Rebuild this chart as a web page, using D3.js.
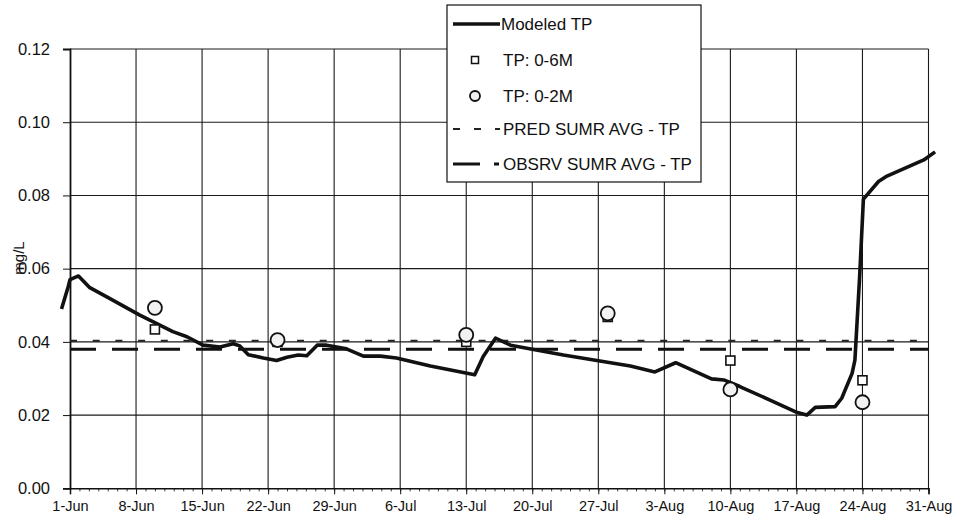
<!DOCTYPE html>
<html>
<head>
<meta charset="utf-8">
<script src="https://cdn.jsdelivr.net/npm/d3@7"></script>
<style>
  html, body { margin: 0; padding: 0; background: #fff; }
  svg { display: block; font-family: "Liberation Sans", Arial, sans-serif; }
</style>
</head>
<body>
<svg id="chart" width="955" height="522"></svg>
<script>
// Modeled total phosphorus, days after 1-Jun vs. mg/L
const modeledDay = [-0.9, -0.2, 0.0, 0.9, 2.1, 3.9, 7.4, 10.9, 12.4, 14.1, 15.9, 17.3, 18.0, 18.9, 20.5,
  21.9, 23.0, 24.2, 25.1, 26.2, 27.2, 29.3, 31.1, 32.9, 34.6, 38.2, 42.9, 43.8, 45.1, 46.7, 52.3, 59.4,
  62.0, 64.2, 68.0, 69.3, 71.0, 74.2, 77.1, 78.1, 79.0, 81.1, 81.8, 82.9, 83.2, 83.7, 84.1, 85.7, 86.6,
  90.5, 91.7];
const modeledTP = [0.049, 0.055, 0.057, 0.058, 0.0548, 0.0523, 0.0473, 0.0428, 0.0414, 0.0391, 0.0386,
  0.0395, 0.0389, 0.0365, 0.0356, 0.0349, 0.0358, 0.0364, 0.0362, 0.0391, 0.0391, 0.0381, 0.0361, 0.0361,
  0.0356, 0.0334, 0.0310, 0.0360, 0.0410, 0.0391, 0.0364, 0.0334, 0.0318, 0.0343, 0.0299, 0.0296, 0.0278,
  0.0241, 0.0207, 0.0200, 0.0221, 0.0223, 0.0246, 0.0314, 0.0350, 0.0578, 0.0790, 0.0838, 0.0853,
  0.0897, 0.0919];

// Sampled TP, 0-6 m composite (squares)
const sample6Day = [9, 22, 42, 57, 70, 84];
const sample6TP = [0.0434, 0.0400, 0.0400, 0.0468, 0.0349, 0.0295];

// Sampled TP, 0-2 m composite (circles)
const sample2Day = [9, 22, 42, 57, 70, 84];
const sample2TP = [0.0493, 0.0405, 0.0419, 0.0478, 0.0270, 0.0235];

// Summer averages
const predSummerAvg = 0.0403;
const obsSummerAvg = 0.0380;

// Axes
const xTickDays = [0, 7, 14, 21, 28, 35, 42, 49, 56, 63, 70, 77, 84, 91];
const xTickLabels = ["1-Jun", "8-Jun", "15-Jun", "22-Jun", "29-Jun", "6-Jul", "13-Jul", "20-Jul",
  "27-Jul", "3-Aug", "10-Aug", "17-Aug", "24-Aug", "31-Aug"];
const yTicks = [0, 0.02, 0.04, 0.06, 0.08, 0.10, 0.12];
const legendLabels = ["Modeled TP", "TP: 0-6M", "TP: 0-2M", "PRED SUMR AVG - TP", "OBSRV SUMR AVG - TP"];

const svg = d3.select("#chart");
const plotLeft = 70, plotRight = 928.5, plotTop = 49, plotBottom = 488.3;

const x = d3.scaleLinear().domain([0, 91]).range([plotLeft, plotRight]);
const y = d3.scaleLinear().domain([0, 0.12]).range([plotBottom, plotTop]);

// Gridlines
const grid = svg.append("g").attr("stroke", "#1a1a1a").attr("stroke-width", 1.1);
grid.selectAll("line.h").data(yTicks.slice(1)).join("line").attr("class", "h")
  .attr("x1", plotLeft).attr("x2", plotRight)
  .attr("y1", d => y(d)).attr("y2", d => y(d));
grid.selectAll("line.v").data(xTickDays.slice(1)).join("line").attr("class", "v")
  .attr("y1", plotTop).attr("y2", plotBottom)
  .attr("x1", d => x(d)).attr("x2", d => x(d));

// Y axis
const yAxis = svg.append("g").attr("transform", `translate(${plotLeft},0)`)
  .call(d3.axisLeft(y).tickValues(yTicks).tickFormat(d3.format(".2f")).tickSize(7).tickPadding(13));
yAxis.select(".domain").attr("stroke", "#111").attr("stroke-width", 1.8);
yAxis.selectAll(".tick line").attr("stroke", "#111");
yAxis.selectAll("text").attr("font-size", 16.5).attr("fill", "#111");

// X axis: daily minor ticks, weekly labelled ticks
const xMinor = svg.append("g").attr("transform", `translate(0,${plotBottom})`)
  .call(d3.axisBottom(x).tickValues(d3.range(0, 92)).tickFormat("").tickSize(3));
xMinor.select(".domain").remove();
xMinor.selectAll(".tick line").attr("stroke", "#333");
const xAxis = svg.append("g").attr("transform", `translate(0,${plotBottom})`)
  .call(d3.axisBottom(x).tickValues(xTickDays).tickFormat((d, i) => xTickLabels[i]).tickSize(6).tickPadding(6));
xAxis.select(".domain").attr("stroke", "#111").attr("stroke-width", 1.5);
xAxis.selectAll(".tick line").attr("stroke", "#111");
xAxis.selectAll("text").attr("font-size", 14.5).attr("fill", "#111");

// Y axis title
svg.append("text")
  .attr("transform", "translate(24,258) rotate(-90)")
  .attr("text-anchor", "middle")
  .attr("font-size", 15).attr("fill", "#111")
  .text("mg/L");

// Summer average lines
svg.append("line")
  .attr("x1", plotLeft).attr("x2", plotRight)
  .attr("y1", y(predSummerAvg)).attr("y2", y(predSummerAvg))
  .attr("stroke", "#222").attr("stroke-width", 2.2).attr("stroke-dasharray", "7,15.7");
svg.append("line")
  .attr("x1", plotLeft).attr("x2", plotRight)
  .attr("y1", y(obsSummerAvg)).attr("y2", y(obsSummerAvg))
  .attr("stroke", "#111").attr("stroke-width", 3).attr("stroke-dasharray", "26,16");

// Modeled TP line
const modeled = modeledDay.map((d, i) => [d, modeledTP[i]]);
svg.append("path")
  .datum(modeled)
  .attr("fill", "none").attr("stroke", "#111").attr("stroke-width", 3.6)
  .attr("stroke-linejoin", "round")
  .attr("d", d3.line().x(d => x(d[0])).y(d => y(d[1])));

// Sample markers
const s6 = sample6Day.map((d, i) => [d, sample6TP[i]]);
svg.append("g").selectAll("rect").data(s6).join("rect")
  .attr("x", d => x(d[0]) - 4.5).attr("y", d => y(d[1]) - 4.5)
  .attr("width", 9).attr("height", 9)
  .attr("fill", "#fff").attr("stroke", "#111").attr("stroke-width", 1.6);
const s2 = sample2Day.map((d, i) => [d, sample2TP[i]]);
svg.append("g").selectAll("circle").data(s2).join("circle")
  .attr("cx", d => x(d[0])).attr("cy", d => y(d[1])).attr("r", 7)
  .attr("fill", "#f2f2f2").attr("stroke", "#111").attr("stroke-width", 1.8);

// Legend
const lg = svg.append("g");
lg.append("rect").attr("x", 447).attr("y", 5).attr("width", 254).attr("height", 177)
  .attr("fill", "#fff").attr("stroke", "#111").attr("stroke-width", 1.2);
const rowY = [24, 60, 96, 129, 164];
lg.append("line").attr("x1", 453).attr("x2", 500).attr("y1", rowY[0]).attr("y2", rowY[0])
  .attr("stroke", "#111").attr("stroke-width", 3.6);
lg.append("rect").attr("x", 471.5).attr("y", rowY[1] - 3.5).attr("width", 7).attr("height", 7)
  .attr("fill", "#fff").attr("stroke", "#111").attr("stroke-width", 1.5);
lg.append("circle").attr("cx", 475).attr("cy", rowY[2]).attr("r", 5)
  .attr("fill", "#f2f2f2").attr("stroke", "#111").attr("stroke-width", 1.8);
lg.append("line").attr("x1", 453).attr("x2", 500).attr("y1", rowY[3]).attr("y2", rowY[3])
  .attr("stroke", "#222").attr("stroke-width", 2.2).attr("stroke-dasharray", "7,14");
lg.append("line").attr("x1", 453).attr("x2", 499).attr("y1", rowY[4]).attr("y2", rowY[4])
  .attr("stroke", "#111").attr("stroke-width", 3).attr("stroke-dasharray", "27,14");
lg.selectAll("text").data(legendLabels).join("text")
  .attr("x", (d, i) => i === 0 ? 501 : 503)
  .attr("y", (d, i) => rowY[i])
  .attr("dy", "0.36em")
  .attr("font-size", 17).attr("fill", "#111")
  .text(d => d);
</script>
</body>
</html>
